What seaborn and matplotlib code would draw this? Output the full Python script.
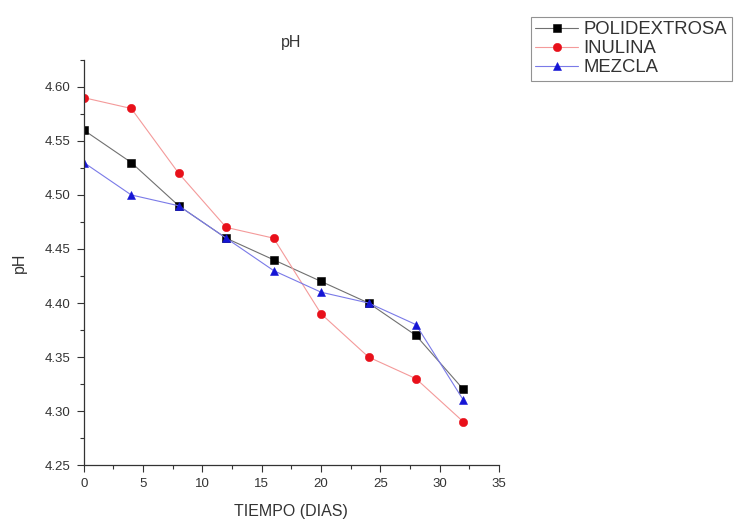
import matplotlib
matplotlib.use("Agg")
import matplotlib.pyplot as plt
import seaborn as sns
import pandas as pd
from matplotlib.ticker import MultipleLocator, FormatStrFormatter

# Storage days and pH readings for each formulation
dias = [0, 4, 8, 12, 16, 20, 24, 28, 32]
polidextrosa = [4.56, 4.53, 4.49, 4.46, 4.44, 4.42, 4.40, 4.37, 4.32]
inulina = [4.59, 4.58, 4.52, 4.47, 4.46, 4.39, 4.35, 4.33, 4.29]
mezcla = [4.53, 4.50, 4.49, 4.46, 4.43, 4.41, 4.40, 4.38, 4.31]

series_names = ["POLIDEXTROSA", "INULINA", "MEZCLA"]

df = pd.DataFrame({
    "dias": dias * 3,
    "ph": polidextrosa + inulina + mezcla,
    "muestra": sum([[n] * len(dias) for n in series_names], []),
})

sns.set_theme(style="white")
plt.rcParams["font.family"] = ["Liberation Sans", "DejaVu Sans"]

fig = plt.figure(figsize=(7.35, 5.25), dpi=100)
ax = fig.add_axes([0.114, 0.114, 0.565, 0.772])

marker_colors = {"POLIDEXTROSA": "#000000", "INULINA": "#e8101a", "MEZCLA": "#1515d5"}
line_colors = {"POLIDEXTROSA": "#707070", "INULINA": "#f49a9a", "MEZCLA": "#7a7ae8"}
markers = {"POLIDEXTROSA": "s", "INULINA": "o", "MEZCLA": "^"}
msizes = {"POLIDEXTROSA": 5.3, "INULINA": 6.0, "MEZCLA": 6.4}

for name in series_names:
    sub = df[df["muestra"] == name]
    sns.lineplot(data=sub, x="dias", y="ph", ax=ax, color=line_colors[name],
                 linewidth=0.8, marker=markers[name], markersize=msizes[name],
                 markerfacecolor=marker_colors[name],
                 markeredgecolor=marker_colors[name], markeredgewidth=0.4,
                 label=name)

ax.set_xlim(0, 35)
ax.set_ylim(4.25, 4.625)
ax.xaxis.set_major_locator(MultipleLocator(5))
ax.xaxis.set_minor_locator(MultipleLocator(2.5))
ax.yaxis.set_major_locator(MultipleLocator(0.05))
ax.yaxis.set_minor_locator(MultipleLocator(0.025))
ax.yaxis.set_major_formatter(FormatStrFormatter("%.2f"))

for s in ["top", "right"]:
    ax.spines[s].set_visible(False)
for s in ["left", "bottom"]:
    ax.spines[s].set_color("#333333")
    ax.spines[s].set_linewidth(0.9)

ax.tick_params(which="major", direction="out", length=5, width=0.8,
               colors="#333333", labelsize=9.5, left=True, bottom=True, pad=4.5)
ax.tick_params(which="minor", direction="out", length=3, width=0.8,
               colors="#333333", left=True, bottom=True)
for lbl in ax.get_xticklabels() + ax.get_yticklabels():
    lbl.set_color("#333333")

ax.set_xlabel("TIEMPO (DIAS)", fontsize=11.5, color="#333333", labelpad=10)
ax.set_ylabel("pH", fontsize=11.5, color="#333333", labelpad=13)
ax.set_title("pH", fontsize=11.5, color="#333333", pad=9)

leg = ax.legend(loc="upper left", bbox_to_anchor=(0.722, 0.968),
                bbox_transform=fig.transFigure, fontsize=13.3,
                frameon=True, fancybox=False, borderpad=0.25,
                labelspacing=0.1, handlelength=2.3, handletextpad=0.3,
                borderaxespad=0)
leg.get_frame().set_edgecolor("#777777")
leg.get_frame().set_linewidth(0.8)
for t in leg.get_texts():
    t.set_color("#333333")

fig.savefig("out.png", dpi=100)
